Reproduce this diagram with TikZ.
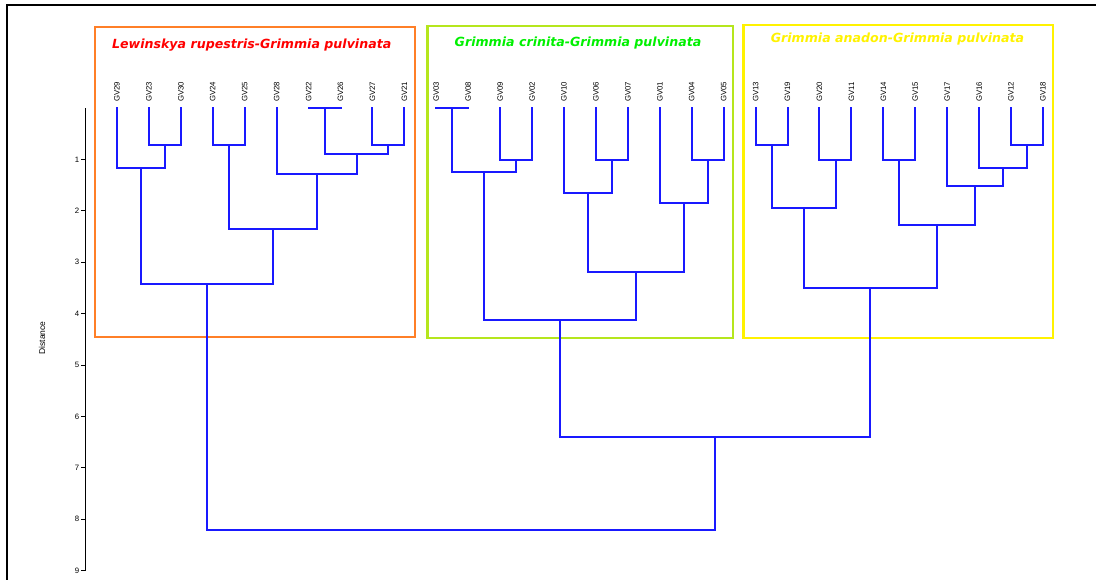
\documentclass[tikz,border=0pt]{standalone}
\usepackage{fontspec}
\setmainfont{Liberation Sans}
\newfontfamily\titlefont{DejaVu Sans}
\definecolor{dblue}{RGB}{25,25,255}
\definecolor{boxorange}{RGB}{255,127,39}
\definecolor{boxgreen}{RGB}{181,230,29}
\definecolor{boxyellow}{RGB}{255,242,0}
\definecolor{ttlred}{RGB}{255,0,0}
\definecolor{ttlgreen}{RGB}{0,240,0}
\definecolor{ttlyellow}{RGB}{255,242,0}
\begin{document}
\begin{tikzpicture}[x=1pt,y=-1pt,
  den/.style={draw=dblue,line width=2pt,line cap=rect},
  grpbox/.style={line width=2.6pt},
  leaf/.style={rotate=90,anchor=west,inner sep=0pt,font=\fontsize{7.8}{8}\selectfont},
  ttl/.style={anchor=base,inner sep=0pt,font=\titlefont\bfseries\itshape\fontsize{12.6}{14}\selectfont},
  ticklab/.style={anchor=east,inner sep=0pt,font=\fontsize{7.8}{8}\selectfont},
  axisline/.style={draw=black,line width=0.9pt},
  frame/.style={draw=black,line width=2.4pt}]
\useasboundingbox (0,0) rectangle (1096,579);
% outer frame
\coordinate (fr1) at (1100,5);
\coordinate (fr2) at (7,5);
\coordinate (fr3) at (7,583);
\draw[frame] (fr1) -- (fr2) -- (fr3);
% group boxes
\draw[grpbox,draw=boxorange] (95,27) rectangle (415,337);
\draw[grpbox,draw=boxgreen] (427.5,26) rectangle (733,338);
\draw[grpbox,draw=boxyellow] (743.5,25) rectangle (1053,338);
\node[ttl,text=ttlred] (t1) at (251.7,48.3) {Lewinskya rupestris-Grimmia pulvinata};
\node[ttl,text=ttlgreen] (t2) at (578,46) {Grimmia crinita-Grimmia pulvinata};
\node[ttl,text=ttlyellow] (t3) at (897.5,42.7) {Grimmia anadon-Grimmia pulvinata};
% axis
\coordinate (axtop) at (85,108);
\coordinate (axbot) at (85,570.6);
\draw[axisline] (axtop) -- (axbot);
\foreach \d in {1,...,9} {
  \coordinate (tk\d) at (85,{108+51.4*\d});
  \coordinate (tke\d) at (81,{108+51.4*\d});
  \draw[axisline] (tk\d) -- (tke\d);
  \node[ticklab] (tl\d) at (79.5,{108+51.4*\d}) {\d};
}
\node[rotate=90,inner sep=0pt,font=\fontsize{8.5}{9}\selectfont] (dist) at (42,338) {Distance};
% leaves
\foreach \n [count=\i from 0] in {29,23,30,24,25,28,22,26,27,21,03,08,09,02,10,06,07,01,04,05,13,19,20,11,14,15,17,16,12,18} {
  \node[leaf] (lab\n) at ({117+31.93*\i},102) {GV\n};
  \coordinate (g\n) at ({117+31.93*\i},108);
}
% internal nodes
\foreach \nm/\x/\y in {a1/324.6/108, a2/164.9/145, a3/141/168, a4/228.8/145, a5/388.4/145,
  a6/356.5/153.5, a7/316.6/174, a8/272.7/228.5, a9/206.8/284,
  b1/452.3/108, b2/516.2/160, b3/484.2/171.5, b4/612/160, b5/588/192.5,
  b6/707.7/160, b7/683.8/202.5, b8/635.9/271.5, b9/560/319.5,
  c1/771.6/145, c2/835.5/160, c3/803.5/207.5, c4/899.3/160, c5/1027/145,
  c6/1003.1/168, c7/975.1/185.5, c8/937.2/225, c9/870.4/287.5,
  d1/715.2/436.5, d2/461/530}
  \coordinate (\nm) at (\x,\y);
% branches
\foreach \p/\a/\b in {a1/g22/g26, a2/g23/g30, a3/g29/a2, a4/g24/g25, a5/g27/g21,
  a6/a1/a5, a7/g28/a6, a8/a4/a7, a9/a3/a8,
  b1/g03/g08, b2/g09/g02, b3/b1/b2, b4/g06/g07, b5/g10/b4,
  b6/g04/g05, b7/g01/b6, b8/b5/b7, b9/b3/b8,
  c1/g13/g19, c2/g20/g11, c3/c1/c2, c4/g14/g15, c5/g12/g18,
  c6/g16/c5, c7/g17/c6, c8/c4/c7, c9/c3/c8,
  d1/b9/c9, d2/a9/d1}
  \draw[den] (\a) |- (\p) -| (\b);
\end{tikzpicture}
\end{document}
